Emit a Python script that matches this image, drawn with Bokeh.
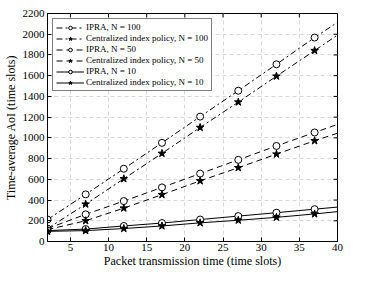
import math
from bokeh.plotting import figure
from bokeh.models import Legend, LegendItem, FixedTicker, Range1d
from bokeh.embed import file_html
from bokeh.resources import INLINE

# ---- data ----
x_vals = [2, 7, 12, 17, 22, 27, 32, 37, 40]
ipra_100 = [212, 455, 702, 952, 1205, 1455, 1710, 1968, 2115]
cent_100 = [125, 360, 605, 850, 1100, 1345, 1595, 1842, 1992]
ipra_50 = [125, 262, 390, 522, 655, 788, 922, 1052, 1130]
cent_50 = [115, 200, 322, 452, 585, 712, 843, 972, 1045]
ipra_10 = [105, 120, 150, 178, 212, 245, 278, 312, 332]
cent_10 = [98, 105, 125, 150, 180, 205, 233, 266, 288]

labels = ["IPRA, N = 100", "Centralized index policy, N = 100",
          "IPRA, N = 50", "Centralized index policy, N = 50",
          "IPRA, N = 10", "Centralized index policy, N = 10"]
series = [ipra_100, cent_100, ipra_50, cent_50, ipra_10, cent_10]
dashes = ["6 3 2 3", "6 3 2 3", "6 4", "6 4", "solid", "solid"]
markers = ["circle", "star", "circle", "star", "circle", "star"]

x_ticks = [5, 10, 15, 20, 25, 30, 35, 40]
y_ticks = list(range(0, 2201, 200))
x_min, x_max = 2, 40
y_min, y_max = 0, 2200

FONT = "Liberation Serif"

p = figure(width=358, height=270,
           x_range=Range1d(x_min, x_max), y_range=Range1d(y_min, y_max),
           output_backend="svg", toolbar_location=None,
           min_border_left=40, min_border_top=13, min_border_right=21, min_border_bottom=26,
           background_fill_color="white", border_fill_color="white")
p.outline_line_color = "black"
p.outline_line_width = 1

for ax in (p.xaxis[0], p.yaxis[0]):
    ax.major_tick_in = 4
    ax.major_tick_out = 0
    ax.minor_tick_line_color = None
    ax.axis_line_color = "black"
    ax.major_tick_line_color = "black"
    ax.major_label_text_font = FONT
    ax.major_label_text_font_size = "11px"
    ax.major_label_text_color = "black"
    ax.axis_label_text_font = FONT
    ax.axis_label_text_font_size = "12px"
    ax.axis_label_text_font_style = "normal"
    ax.axis_label_text_color = "black"
    ax.major_label_standoff = 3
    ax.axis_label_standoff = 2
p.xaxis.major_label_standoff = 2
p.xaxis.axis_label_standoff = 0

p.xaxis.ticker = FixedTicker(ticks=x_ticks)
p.yaxis.ticker = FixedTicker(ticks=y_ticks)
p.xaxis.axis_label = "Packet transmission time (time slots)"
p.yaxis.axis_label = "Time-average AoI (time slots)"

p.xgrid.ticker = FixedTicker(ticks=x_ticks)
p.ygrid.ticker = FixedTicker(ticks=y_ticks)
p.grid.grid_line_color = "#d8d8d8"
p.grid.grid_line_dash = "4 3"
p.grid.grid_line_width = 1

# mirrored inward ticks on the top and right spines (half of each dash is clipped by the frame)
p.scatter(x_ticks, [y_max] * len(x_ticks), marker="dash", size=8, angle=math.pi / 2,
          line_color="black", line_width=1)
p.scatter([x_max] * len(y_ticks), y_ticks, marker="dash", size=8,
          line_color="black", line_width=1)

items = []
for lab, ys, dash, mk in zip(labels, series, dashes, markers):
    ln = p.line(x_vals, ys, line_color="black", line_width=1, line_dash=dash)
    if mk == "circle":
        sc = p.scatter(x_vals[:-1], ys[:-1], marker="circle", size=7,
                       line_color="black", fill_color="white", line_width=1)
    else:
        sc = p.scatter(x_vals[:-1], ys[:-1], marker="star", size=8,
                       line_color="black", fill_color="black", line_width=1)
    items.append(LegendItem(label=lab, renderers=[ln, sc]))

leg = Legend(items=items, location="top_left")
leg.margin = 5
leg.padding = 3
leg.spacing = 1
leg.glyph_width = 28
leg.glyph_height = 9
leg.label_height = 9
leg.label_standoff = 2
leg.label_text_font = FONT
leg.label_text_font_size = "9px"
leg.label_text_color = "black"
leg.border_line_color = "black"
leg.border_line_width = 1
leg.background_fill_color = "white"
leg.background_fill_alpha = 1
p.add_layout(leg, "center")

open("out.html", "w").write(file_html(p, INLINE))
